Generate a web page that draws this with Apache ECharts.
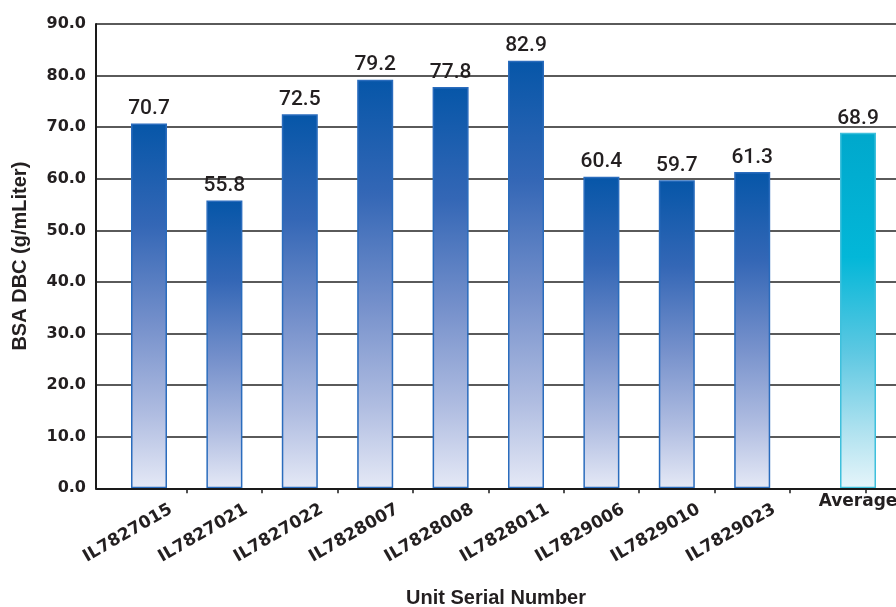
<!DOCTYPE html>
<html>
<head>
<meta charset="utf-8">
<script src="https://cdn.jsdelivr.net/npm/echarts@6/dist/echarts.min.js"></script>
<style>
  html, body { margin: 0; padding: 0; background: #ffffff; }
  #chart { width: 896px; height: 607px; }
</style>
</head>
<body>
<div id="chart"></div>
<script>
// Dynamic binding capacity (BSA) per unit, plus the overall average
const categories = ['IL7827015', 'IL7827021', 'IL7827022', 'IL7828007', 'IL7828008',
                    'IL7828011', 'IL7829006', 'IL7829010', 'IL7829023', 'Average'];
const dbcValues = [70.7, 55.8, 72.5, 79.2, 77.8, 82.9, 60.4, 59.7, 61.3];
const averageValue = 68.9;
const yMin = 0, yMax = 90, yStep = 10;
const yTitle = 'BSA DBC (g/mLiter)';
const xTitle = 'Unit Serial Number';

const lastIndex = categories.length - 1;
const unitData = categories.map((c, i) => (i < lastIndex ? dbcValues[i] : null));
const averageData = categories.map((c, i) => (i === lastIndex ? averageValue : null));

const TEXT = '#231f20';
const AXIS = '#1a1a1a';
const gridTop = 24, gridBottom = 118.7;
const slotLeft = 111.3, slotSpan = 754;

// every bar/label layer shares the frame's vertical extent; only the horizontal offset differs
function slotGrid(shift) {
  return { left: slotLeft + shift, width: slotSpan, top: gridTop, bottom: gridBottom,
           outerBoundsMode: 'none' };
}
function hiddenY(gridIndex) {
  return { gridIndex, type: 'value', min: yMin, max: yMax, interval: yStep, show: false };
}
function slotX(gridIndex, extra) {
  return Object.assign({
    gridIndex, type: 'category', data: categories, boundaryGap: true,
    axisLine: { show: false }, axisTick: { show: false }, axisLabel: { show: false },
    splitLine: { show: false }
  }, extra);
}

const axisFont = { fontFamily: 'DejaVu Sans', fontWeight: 'bold', color: TEXT };

const unitGradient = new echarts.graphic.LinearGradient(0, 0, 0, 1, [
  { offset: 0.00, color: '#0656a8' },
  { offset: 0.28, color: '#3467b6' },
  { offset: 0.55, color: '#7590cb' },
  { offset: 0.80, color: '#b0bde1' },
  { offset: 1.00, color: '#e5e9f6' }
]);
const averageGradient = new echarts.graphic.LinearGradient(0, 0, 0, 1, [
  { offset: 0.00, color: '#00a8cc' },
  { offset: 0.35, color: '#03b7d8' },
  { offset: 0.62, color: '#5ec8e2' },
  { offset: 0.85, color: '#b3e3f0' },
  { offset: 1.00, color: '#e6f5fa' }
]);

const valueLabel = {
  show: true, position: 'top', distance: 4,
  fontFamily: 'Roboto, Liberation Sans', fontWeight: 500, fontSize: 21, color: TEXT,
  formatter: p => Number(p.value).toFixed(1)
};

const chart = echarts.init(document.getElementById('chart'), null, { renderer: 'canvas' });
chart.setOption({
  animation: false,
  backgroundColor: '#ffffff',
  grid: [
    { left: 96, right: 0, top: gridTop, bottom: gridBottom, outerBoundsMode: 'none' },  // frame
    slotGrid(0),      // unit bars and category ticks
    slotGrid(30.4),   // average bar and its label
    slotGrid(22)      // slanted unit labels
  ],
  xAxis: [
    {
      gridIndex: 0, type: 'category', data: [''],
      axisLine: { show: true, lineStyle: { color: AXIS, width: 2 } },
      axisTick: { show: false }, axisLabel: { show: false }, splitLine: { show: false },
      name: xTitle, nameLocation: 'middle', nameGap: 100,
      nameTextStyle: { fontFamily: 'Liberation Sans', fontWeight: 'bold', fontSize: 20, color: TEXT },
      z: 5
    },
    slotX(1, {
      axisTick: { show: true, length: 5, interval: i => i > 0,
                  lineStyle: { color: AXIS, width: 1.5 } }
    }),
    slotX(2, {
      axisLabel: Object.assign({ show: true, interval: i => i === lastIndex,
                                 fontSize: 17, margin: 5 }, axisFont)
    }),
    slotX(3, {
      axisLabel: Object.assign({ show: true, interval: i => i < lastIndex,
                                 rotate: 30, fontSize: 17, margin: 20 }, axisFont)
    })
  ],
  yAxis: [
    {
      gridIndex: 0, type: 'value', min: yMin, max: yMax, interval: yStep,
      axisLine: { show: true, lineStyle: { color: AXIS, width: 2 } },
      axisTick: { show: false },
      axisLabel: Object.assign({ fontSize: 16, margin: 10, formatter: v => v.toFixed(1) }, axisFont),
      splitLine: { show: true, lineStyle: { color: '#5a5a5a', width: 2 } },
      name: yTitle, nameLocation: 'middle', nameGap: 66,
      nameTextStyle: { fontFamily: 'Liberation Sans', fontWeight: 'bold', fontSize: 20, color: TEXT }
    },
    hiddenY(1), hiddenY(2), hiddenY(3)
  ],
  series: [
    {
      name: 'BSA DBC', type: 'bar', xAxisIndex: 1, yAxisIndex: 1,
      data: unitData, barWidth: 36,
      itemStyle: { color: unitGradient, borderColor: '#2a6cbd', borderWidth: 1.5 },
      label: valueLabel
    },
    {
      name: 'Average', type: 'bar', xAxisIndex: 2, yAxisIndex: 2,
      data: averageData, barWidth: 36,
      itemStyle: { color: averageGradient, borderColor: '#3fc0dc', borderWidth: 1.5 },
      label: valueLabel
    }
  ]
});
</script>
</body>
</html>
